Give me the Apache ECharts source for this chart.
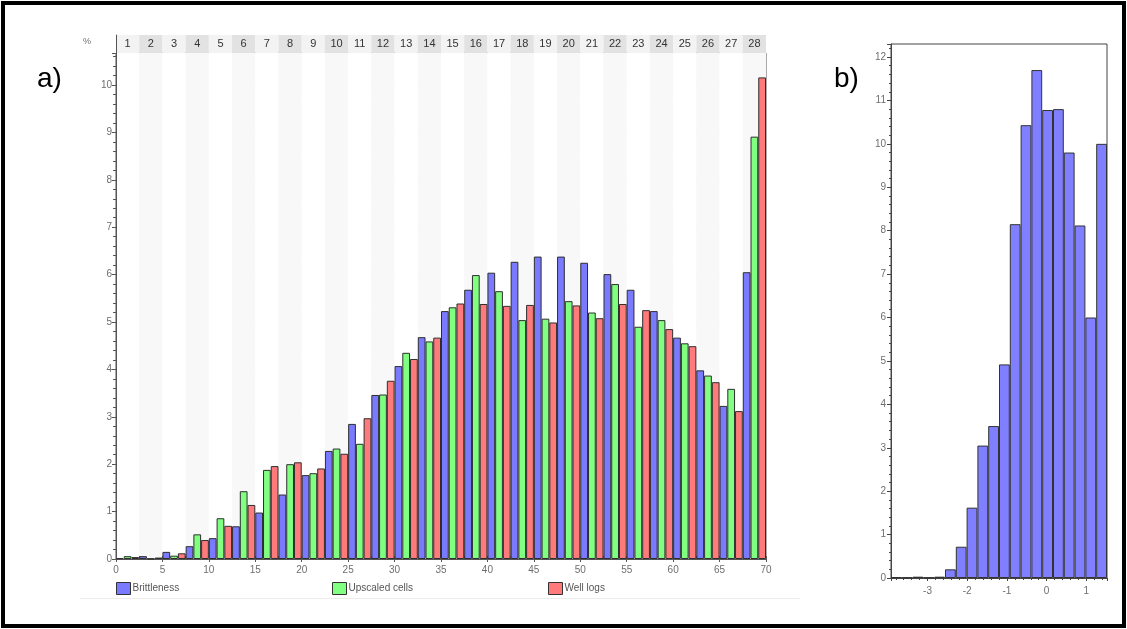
<!DOCTYPE html>
<html>
<head>
<meta charset="utf-8">
<script src="https://cdn.jsdelivr.net/npm/echarts@6/dist/echarts.min.js"></script>
<style>
  html, body { margin: 0; padding: 0; background: #ffffff; }
  #chart { width: 1127px; height: 629px; }
</style>
</head>
<body>
<div id="chart"></div>
<script>
// Panel a: 28 class bins of 2.5 units over 0..70, percentage per bin
const binLabels = ['1','2','3','4','5','6','7','8','9','10','11','12','13','14',
                   '15','16','17','18','19','20','21','22','23','24','25','26','27','28'];
const brittleness   = [0.02, 0.06, 0.15, 0.27, 0.44, 0.69, 0.98, 1.36, 1.77, 2.28, 2.85, 3.46, 4.07, 4.68,
                       5.23, 5.68, 6.04, 6.27, 6.38, 6.38, 6.25, 6.01, 5.68, 5.23, 4.67, 3.98, 3.23, 6.05];
const upscaledCells = [0.06, 0.01, 0.07, 0.52, 0.86, 1.43, 1.88, 2.00, 1.81, 2.33, 2.43, 3.47, 4.35, 4.59,
                       5.31, 5.99, 5.65, 5.04, 5.07, 5.44, 5.20, 5.80, 4.90, 5.04, 4.55, 3.87, 3.59, 8.91];
const wellLogs      = [0.04, 0.03, 0.12, 0.40, 0.70, 1.14, 1.96, 2.04, 1.91, 2.22, 2.97, 3.76, 4.22, 4.67,
                       5.39, 5.38, 5.34, 5.36, 4.99, 5.35, 5.08, 5.38, 5.25, 4.85, 4.49, 3.73, 3.12, 10.16];
const seriesNames = ['Brittleness', 'Upscaled cells', 'Well logs'];

// Panel b: histogram with 20 bins (bin centres) and percentage per bin
const bBinCentres = ['-3.784','-3.512','-3.240','-2.968','-2.696','-2.424','-2.152','-1.880','-1.608','-1.336',
                     '-1.064','-0.792','-0.520','-0.248','0.024','0.296','0.568','0.840','1.112','1.384'];
const bValues = [0.02, 0.01, 0.03, 0.01, 0.03, 0.20, 0.72, 1.62, 3.05, 3.50,
                 4.92, 8.15, 10.43, 11.70, 10.78, 10.80, 9.80, 8.12, 6.00, 10.00];

const colors = { blue: '#7a7aff', green: '#80ff80', red: '#ff7a7a', edge: '#2e2e2e' };
const axisGrey = '#555555';
const labelGrey = '#6e6e6e';

const chart = echarts.init(document.getElementById('chart'), null, { renderer: 'canvas' });

function legendFor(name, left) {
  return {
    data: [name], left: left, top: 582, padding: 0, itemGap: 0,
    itemWidth: 14, itemHeight: 12, icon: 'rect',
    itemStyle: { borderColor: '#333', borderWidth: 1 },
    textStyle: { fontSize: 10, color: '#555', padding: [0, 0, 0, -3] },
    selectedMode: false
  };
}

function barSeries(name, data, color) {
  return {
    name: name, type: 'bar', xAxisIndex: 0, yAxisIndex: 0, data: data,
    barGap: '0%', barCategoryGap: '0%',
    itemStyle: { color: color, borderColor: colors.edge, borderWidth: 1 },
    emphasis: { disabled: true }
  };
}

const option = {
  animation: false,
  backgroundColor: '#ffffff',
  textStyle: { fontFamily: 'Liberation Sans' },
  title: [
    { text: 'a)', left: 32, top: 60, textStyle: { fontSize: 28, fontWeight: 'normal', color: '#000' } },
    { text: 'b)', left: 829, top: 60, textStyle: { fontSize: 28, fontWeight: 'normal', color: '#000' } },
    { text: '%', left: 83, top: 37, padding: 0, textStyle: { fontSize: 9, fontWeight: 'normal', color: labelGrey } }
  ],
  legend: [
    legendFor('Brittleness', 116),
    legendFor('Upscaled cells', 332),
    legendFor('Well logs', 548)
  ],
  graphic: [
    { type: 'rect', shape: { x: 3, y: 3, width: 1121, height: 623 },
      style: { fill: 'none', stroke: '#000', lineWidth: 4 }, silent: true, z: 100 },
    { type: 'line', shape: { x1: 80, y1: 598.5, x2: 800, y2: 598.5 },
      style: { stroke: '#ececec', lineWidth: 1 }, silent: true }
  ],
  grid: [
    { left: 116, top: 53, width: 650, height: 506, show: true, borderColor: axisGrey, borderWidth: 1, backgroundColor: '#fff' },
    { left: 116, top: 35, width: 650, height: 18, show: false },
    { left: 891, top: 44, width: 216, height: 534, show: true, borderColor: '#444', borderWidth: 1, backgroundColor: '#fff' }
  ],
  xAxis: [
    { // bin axis carrying the bars (top edge of plot)
      type: 'category', gridIndex: 0, data: binLabels, position: 'top',
      axisLine: { show: true, lineStyle: { color: axisGrey } },
      axisTick: { show: true, length: 3, lineStyle: { color: axisGrey } },
      axisLabel: { show: false },
      splitLine: { show: false },
      splitArea: { show: true, areaStyle: { color: ['#ffffff', '#f8f8f8'] } }
    },
    { // value scale 0..70 along the bottom
      type: 'value', gridIndex: 0, min: 0, max: 70, interval: 5, position: 'bottom',
      axisLine: { show: true, onZero: false, lineStyle: { color: axisGrey } },
      axisTick: { show: true, length: 3, lineStyle: { color: axisGrey } },
      axisLabel: { color: labelGrey, fontSize: 10, margin: 6 },
      splitLine: { show: false }
    },
    { // numbered bin strip above the plot
      type: 'category', gridIndex: 1, data: binLabels, position: 'top',
      axisLine: { show: false }, axisTick: { show: false },
      axisLabel: { inside: true, margin: 3, fontSize: 11, color: '#333' },
      splitLine: { show: false },
      splitArea: { show: true, areaStyle: { color: ['#f3f3f3', '#e2e2e2'] } }
    },
    { // histogram bins of panel b
      type: 'category', gridIndex: 2, data: bBinCentres, show: false
    },
    { // value scale of panel b
      type: 'value', gridIndex: 2, min: -3.92, max: 1.52, position: 'bottom',
      axisLine: { show: true, onZero: false, lineStyle: { color: '#444' } },
      axisTick: { show: true, length: 3, lineStyle: { color: '#444' } },
      minorTick: { show: true, splitNumber: 5, length: 2, lineStyle: { color: '#444' } },
      axisLabel: { color: labelGrey, fontSize: 10, margin: 8, showMinLabel: false, showMaxLabel: false },
      splitLine: { show: false }
    }
  ],
  yAxis: [
    {
      type: 'value', gridIndex: 0, min: 0, max: 10.675, interval: 1,
      axisLine: { show: true, onZero: false, lineStyle: { color: axisGrey } },
      axisTick: { show: true, length: 4, lineStyle: { color: axisGrey } },
      minorTick: { show: true, splitNumber: 5, length: 3, lineStyle: { color: axisGrey } },
      axisLabel: { color: labelGrey, fontSize: 10, margin: 4, showMaxLabel: false },
      splitLine: { show: true, lineStyle: { color: '#e6e6e6' } },
      minorSplitLine: { show: true, lineStyle: { color: '#eeeeee' } }
    },
    { // left edge of the bin strip
      type: 'value', gridIndex: 1, min: 0, max: 1,
      axisLine: { show: true, onZero: false, lineStyle: { color: axisGrey } },
      axisTick: { show: false }, axisLabel: { show: false },
      splitLine: { show: false }
    },
    {
      type: 'value', gridIndex: 2, min: 0, max: 12.3, interval: 1,
      axisLine: { show: true, onZero: false, lineStyle: { color: '#444' } },
      axisTick: { show: true, length: 4, lineStyle: { color: '#444' } },
      minorTick: { show: true, splitNumber: 5, length: 2, lineStyle: { color: '#444' } },
      axisLabel: { color: labelGrey, fontSize: 10, margin: 5, showMaxLabel: false },
      splitLine: { show: false }
    }
  ],
  series: [
    barSeries(seriesNames[0], brittleness, colors.blue),
    barSeries(seriesNames[1], upscaledCells, colors.green),
    barSeries(seriesNames[2], wellLogs, colors.red),
    {
      name: 'histogram', type: 'bar', xAxisIndex: 3, yAxisIndex: 2, data: bValues,
      barCategoryGap: '0%',
      itemStyle: { color: '#7f7fff', borderColor: '#333', borderWidth: 1 },
      emphasis: { disabled: true }
    }
  ]
};

chart.setOption(option);
</script>
</body>
</html>
